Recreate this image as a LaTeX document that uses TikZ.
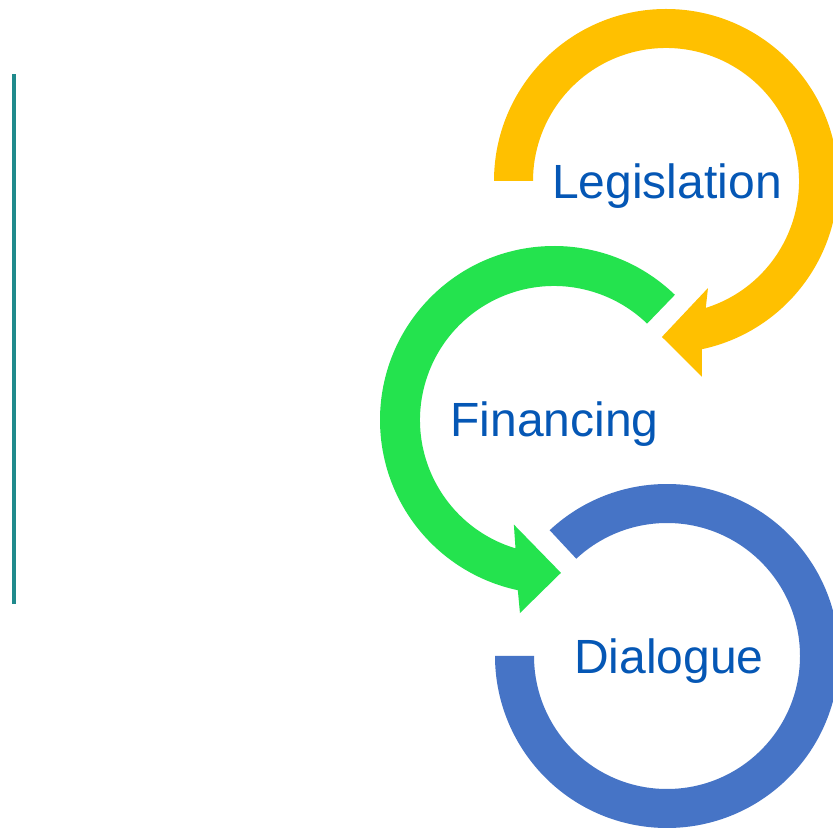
\documentclass[tikz,border=0pt]{standalone}
\usepackage{fontspec}
\setmainfont{Liberation Sans}
\definecolor{cycYellow}{HTML}{FFC000}
\definecolor{cycGreen}{HTML}{24E34E}
\definecolor{cycBlue}{HTML}{4674C6}
\definecolor{labelBlue}{HTML}{0557B5}
\definecolor{railTeal}{HTML}{1F8A8C}
\begin{document}
\begin{tikzpicture}[x=1pt,y=1pt,
  band/.style={draw=none},
  steplabel/.style={text=labelBlue,font=\fontsize{48}{54}\selectfont,inner sep=0pt,anchor=base}]
\useasboundingbox (0,0) rectangle (833,828);
\fill[white] (0,0) rectangle (833,828);

% vertical rail on the left
\fill[railTeal] (12,224) rectangle (16,754);

% Legislation: clockwise arc with arrowhead at the bottom
\begin{scope}[shift={(666,647)}]
  \fill[cycYellow,band] (180:172) arc[start angle=180,end angle=-78,radius=172]
    -- (-79.6:199) -- (-91.5:156) -- (-68.6:115) -- (-72.6:133)
    arc[start angle=-72.6,end angle=180,radius=133] -- cycle;
  \node[steplabel] (leg) at (1,-18) {Legislation};
\end{scope}

% Financing: counter-clockwise arc with arrowhead at the bottom
\begin{scope}[shift={(554,408)}]
  \fill[cycGreen,band] (46:174) arc[start angle=46,end angle=258,radius=174]
    -- (260:196) -- (272.6:153) -- (249:112) -- (253.3:134)
    arc[start angle=253.3,end angle=46,radius=134] -- cycle;
  \node[steplabel] (fin) at (0.5,-17) {Financing};
\end{scope}

% Dialogue: open ring
\begin{scope}[shift={(667,172)}]
  \fill[cycBlue,band] (133:172) arc[start angle=133,end angle=-180,radius=172]
    -- (-180:133) arc[start angle=-180,end angle=133,radius=133] -- cycle;
  \node[steplabel] (dia) at (2,-18) {Dialogue};
\end{scope}
\end{tikzpicture}
\end{document}
